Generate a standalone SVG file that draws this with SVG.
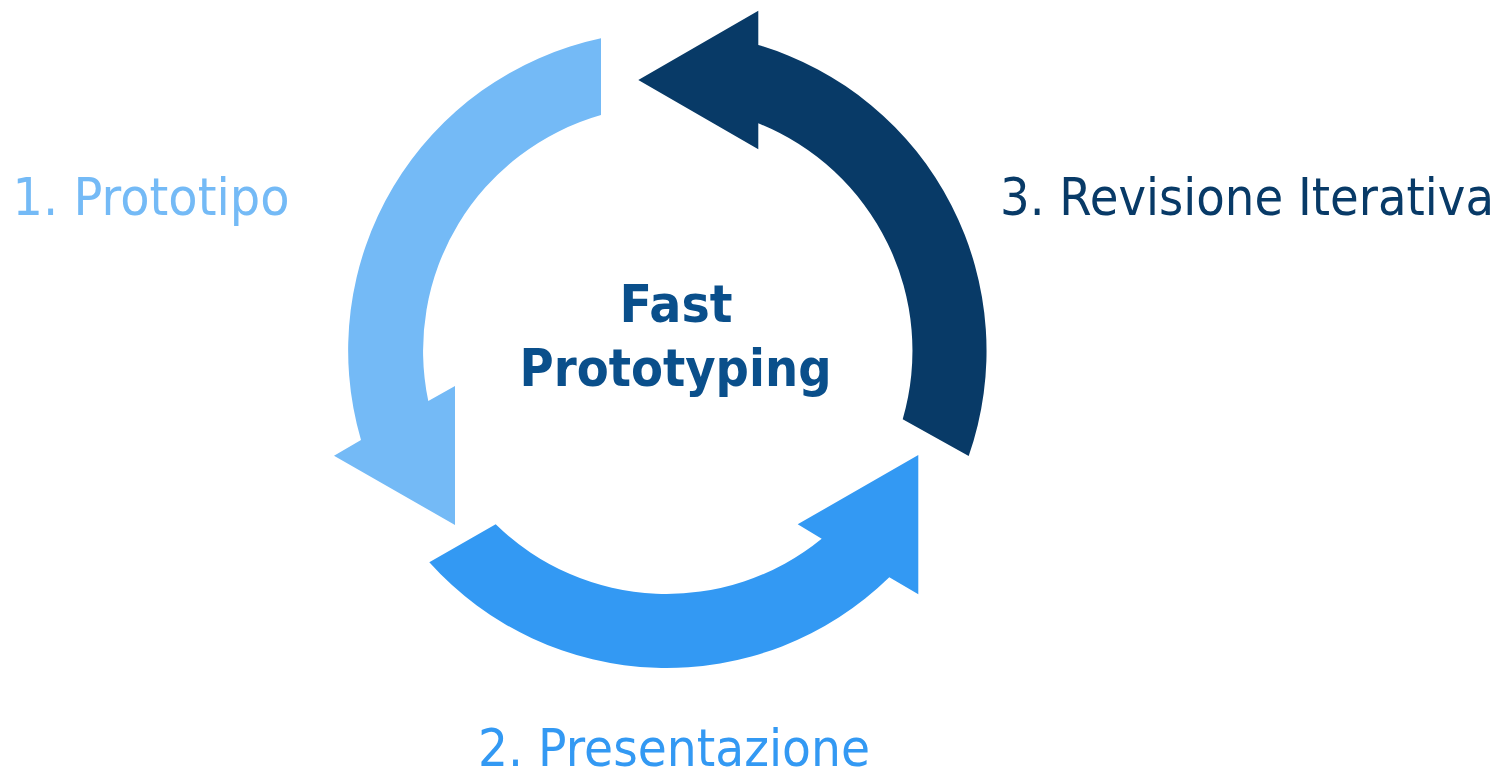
<svg xmlns="http://www.w3.org/2000/svg" width="1499" height="772" viewBox="0 0 1499 772">
  <style>
    .lbl { font-family: "DejaVu Sans", Verdana, sans-serif; font-size: 52px; text-anchor: middle; }
    .title { font-family: "DejaVu Sans", Verdana, sans-serif; font-size: 52px; font-weight: bold; fill: #0A4F8B; text-anchor: middle; }
    .c1 { fill: #74BAF6; }
    .c2 { fill: #3399F3; }
    .c3 { fill: #083A67; }
  </style>
  <rect width="1499" height="772" fill="#FFFFFF"/>
  <g id="connectors">
    <path id="arrow-prototipo" class="c1" d="M601,38.3 A319,319 0 0 0 361,440 L334,455.7 L455,525 L455,386 L428.3,401 A245,245 0 0 1 601,115 Z"/>
    <path id="arrow-presentazione" class="c2" d="M429.3,562.3 A319,319 0 0 0 889.3,577.3 L918.3,594.3 L918.3,455 L797.7,524.3 L821.7,538.7 A245,245 0 0 1 495.7,524.3 Z"/>
    <path id="arrow-revisione" class="c3" d="M968.7,456 A319,319 0 0 0 758.3,45 L758.3,10.7 L638.3,80 L758.3,149.3 L758.3,123.3 A245,245 0 0 1 902.7,419.3 Z"/>
  </g>
  <g id="node-center">
    <text class="title" x="676" y="322" textLength="113" lengthAdjust="spacingAndGlyphs">Fast</text>
    <text class="title" x="675.5" y="386" textLength="312" lengthAdjust="spacingAndGlyphs">Prototyping</text>
  </g>
  <g id="node-prototipo">
    <text class="lbl c1" x="151" y="215" textLength="277" lengthAdjust="spacingAndGlyphs">1. Prototipo</text>
  </g>
  <g id="node-presentazione">
    <text class="lbl c2" x="674" y="766" textLength="392" lengthAdjust="spacingAndGlyphs">2. Presentazione</text>
  </g>
  <g id="node-revisione">
    <text class="lbl c3" x="1247" y="215" textLength="494" lengthAdjust="spacingAndGlyphs">3. Revisione Iterativa</text>
  </g>
</svg>
